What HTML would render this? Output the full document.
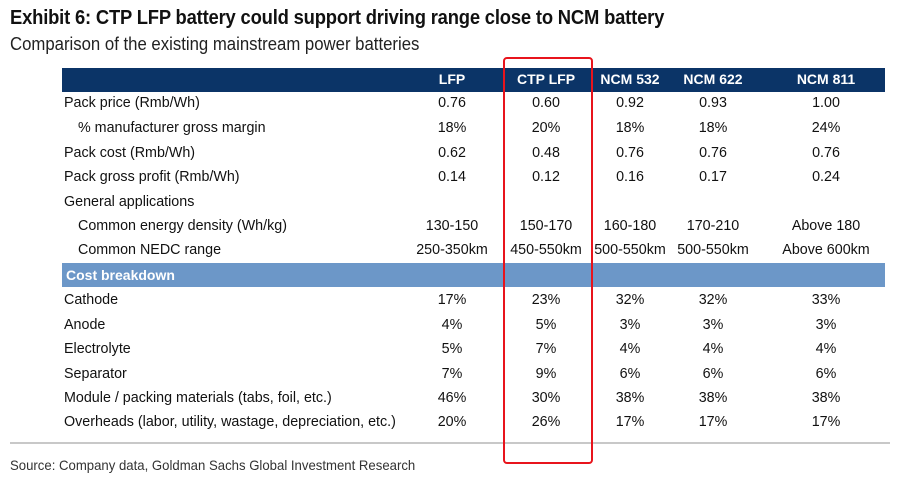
<!DOCTYPE html>
<html><head><meta charset="utf-8"><style>
body{margin:0;width:899px;height:486px;background:#fff;position:relative;overflow:hidden;font-family:"Liberation Sans",Arial,sans-serif;color:#111}
.a{position:absolute;white-space:nowrap}
.t{font-size:14.3px;line-height:16px}
.c{transform:translateX(-50%)}
#title{left:10px;top:7px;font-size:20px;font-weight:bold;transform-origin:0 0;transform:scaleX(0.92);letter-spacing:-0.2px}
#sub{left:10px;top:34px;font-size:18px;color:#222;transform-origin:0 0;transform:scaleX(0.93)}
#hdr{left:62px;top:68px;width:823px;height:24px;background:#0b3467}
#cb{left:62px;top:263px;width:823px;height:24px;background:#6c97c8}
#sep{left:10px;top:442px;width:880px;height:2px;background:#c8c8c8}
#box{left:503px;top:57px;width:86px;height:403px;border:2px solid #e8141c;border-radius:4px}
#src{left:10px;top:457px;font-size:14px;color:#333;transform-origin:0 0;transform:scaleX(0.94)}
.h{color:#fff;font-weight:bold;font-size:14px}
</style></head><body>
<div class="a" id="title">Exhibit 6: CTP LFP battery could support driving range close to NCM battery</div>
<div class="a" id="sub">Comparison of the existing mainstream power batteries</div>
<div class="a" id="hdr"></div>
<div class="a" id="cb"></div>
<div class="a h" style="left:66px;top:267px">Cost breakdown</div>
<div class="a" id="sep"></div>
<div class="a" id="src">Source: Company data, Goldman Sachs Global Investment Research</div>
<div id="tbl"></div>
<div class="a" id="box"></div>
<script>
const colX=[452,546,630,713,826];
const headers=["LFP","CTP LFP","NCM 532","NCM 622","NCM 811"];
const rows=[
["Pack price (Rmb/Wh)",0,95,["0.76","0.60","0.92","0.93","1.00"]],
["% manufacturer gross margin",14,120,["18%","20%","18%","18%","24%"]],
["Pack cost (Rmb/Wh)",0,145,["0.62","0.48","0.76","0.76","0.76"]],
["Pack gross profit (Rmb/Wh)",0,169,["0.14","0.12","0.16","0.17","0.24"]],
["General applications",0,194,[]],
["Common energy density (Wh/kg)",14,218,["130-150","150-170","160-180","170-210","Above 180"]],
["Common NEDC range",14,242,["250-350km","450-550km","500-550km","500-550km","Above 600km"]],
["Cathode",0,292,["17%","23%","32%","32%","33%"]],
["Anode",0,317,["4%","5%","3%","3%","3%"]],
["Electrolyte",0,341,["5%","7%","4%","4%","4%"]],
["Separator",0,366,["7%","9%","6%","6%","6%"]],
["Module / packing materials (tabs, foil, etc.)",0,390,["46%","30%","38%","38%","38%"]],
["Overheads (labor, utility, wastage, depreciation, etc.)",0,414,["20%","26%","17%","17%","17%"]]
];
const T=document.getElementById('tbl');
function add(txt,x,y,cls,center){const d=document.createElement('div');d.className='a '+cls+(center?' c':'');d.style.left=x+'px';d.style.top=y+'px';d.textContent=txt;T.appendChild(d);return d;}
headers.forEach((h,i)=>{const d=add(h,colX[i],71,'h',true);

});
rows.forEach(r=>{const l=add(r[0],64+r[1],r[2],'t',false);


r[3].forEach((v,i)=>{const d=add(v,colX[i],r[2],'t',true);

});});
</script>
</body></html>
